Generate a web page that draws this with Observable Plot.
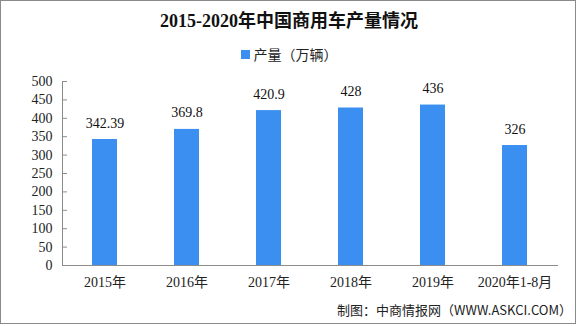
<!DOCTYPE html>
<html>
<head>
<meta charset="utf-8">
<script src="https://cdn.jsdelivr.net/npm/d3@7"></script>
<script src="https://cdn.jsdelivr.net/npm/@observablehq/plot@0.6"></script>
<style>
  body { margin: 0; background: #fff; }
  #wrap { position: relative; width: 578px; height: 326px; background: #fff; overflow: hidden; }
  #frame { position: absolute; left: 0; top: 0; width: 576px; height: 324px; border: 1px solid #8a8a8a; box-sizing: border-box; }
  #title { position: absolute; left: 0; width: 578px; top: 9px; text-align: center; font-family: "Liberation Serif", "Noto Sans CJK SC", serif; font-weight: bold; font-size: 18px; color: #111; line-height: 24px; }
  #legend { position: absolute; left: 0; width: 578px; top: 44px; text-align: center; font-family: "Noto Sans CJK SC", sans-serif; font-size: 14px; color: #222; line-height: 20px; }
  #legend .sw { display: inline-block; width: 9px; height: 9px; background: #3a8ff0; margin-right: 4px; vertical-align: 1px; }
  #plot { position: absolute; left: 0; top: 60px; }
  #caption { position: absolute; right: 6px; top: 300px; font-family: "Noto Sans CJK SC", sans-serif; font-size: 13px; color: #222; line-height: 20px; }
</style>
</head>
<body>
<div id="wrap">
  <div id="frame"></div>
  <div id="title">2015-2020年中国商用车产量情况</div>
  <div id="legend"><span class="sw"></span>产量（万辆）</div>
  <div id="plot"></div>
  <div id="caption">制图：中商情报网（WWW.ASKCI.COM）</div>
</div>
<script>
const categories = ["2015年", "2016年", "2017年", "2018年", "2019年", "2020年1-8月"];
const values = [342.39, 369.8, 420.9, 428, 436, 326];
const valueLabels = ["342.39", "369.8", "420.9", "428", "436", "326"];
const yTicks = [0, 50, 100, 150, 200, 250, 300, 350, 400, 450, 500];

const data = categories.map((c, i) => ({cat: c, v: values[i], label: valueLabels[i]}));
const axisColor = "#8c8c8c";
const numFont = "'Liberation Serif', 'Noto Sans CJK SC', serif";

const chart = Plot.plot({
  width: 578,
  height: 240,
  marginTop: 21,
  marginBottom: 35,
  marginLeft: 62,
  marginRight: 20,
  style: {fontFamily: numFont, fontSize: "14px", color: "#222", background: "transparent"},
  x: {domain: categories, paddingInner: 0.69, paddingOuter: 0.345, align: 0.5, label: null},
  y: {domain: [0, 500], label: null},
  marks: [
    Plot.barY(data, {x: "cat", y: "v", fill: "#3a8ff0"}),
    Plot.frame({anchor: "left", stroke: axisColor}),
    Plot.ruleY([0], {stroke: axisColor}),
    Plot.tickY(yTicks, {y: d => d, stroke: axisColor, insetRight: 491}),
    Plot.axisY({ticks: yTicks, tickSize: 0, tickPadding: 10, fill: "#222", fontSize: 14, tickFormat: d => String(d), label: null}),
    Plot.axisX({tickSize: 0, tickPadding: 12, fill: "#222", fontSize: 14, label: null}),
    Plot.text(data, {x: "cat", y: "v", text: "label", dy: -12, lineAnchor: "bottom", fill: "#111", fontSize: 14})
  ]
});
document.getElementById("plot").appendChild(chart);
</script>
</body>
</html>
